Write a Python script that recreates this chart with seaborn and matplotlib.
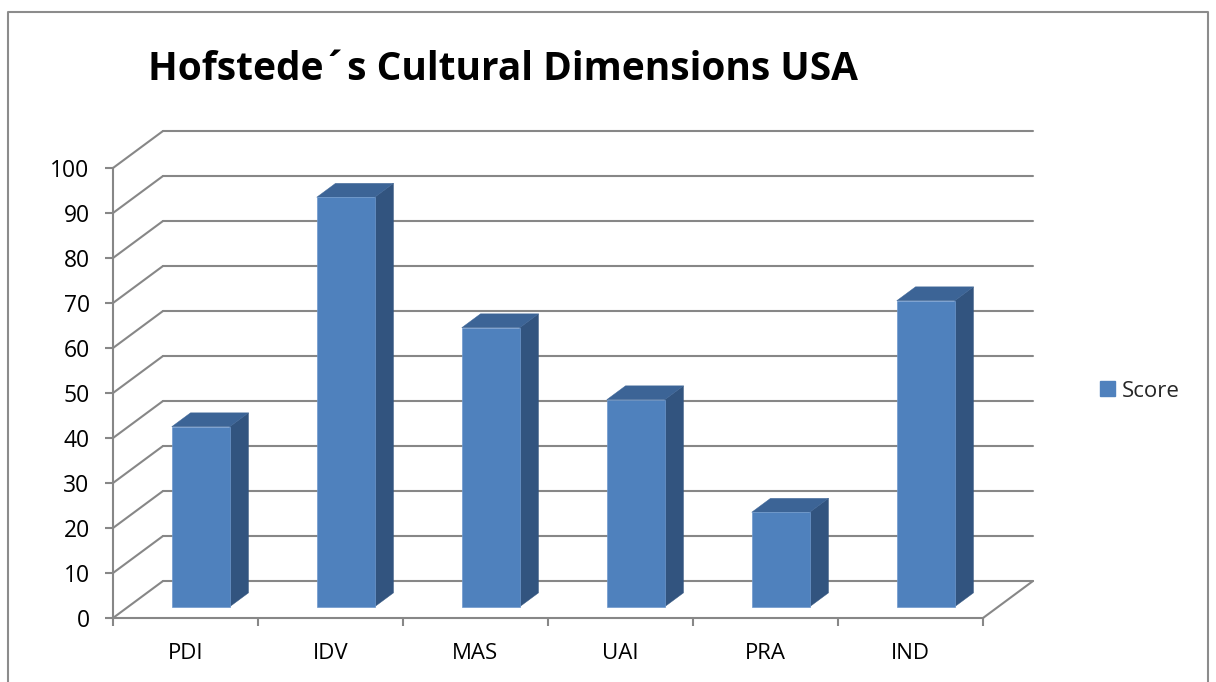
import matplotlib
matplotlib.use("Agg")
import matplotlib.pyplot as plt
from matplotlib.patches import Patch, Polygon
from matplotlib.lines import Line2D
import seaborn as sns

categories = ["PDI", "IDV", "MAS", "UAI", "PRA", "IND"]
scores = [40, 91, 62, 46, 21, 68]
y_ticks = [0, 10, 20, 30, 40, 50, 60, 70, 80, 90, 100]
title = "Hofstede\u00b4s Cultural Dimensions USA"
series_name = "Score"

FRONT = "#4F81BD"
SIDE = "#32547F"
TOP = "#3C6496"
GRID = "#878787"

sns.set_style("white")
plt.rcParams["font.family"] = ["Open Sans", "DejaVu Sans"]

W, H = 1216, 682
fig = plt.figure(figsize=(W / 100, H / 100), dpi=100)

# front plane of plot area (pixels)
L, R, T, B = 113, 983, 168, 618
ax = fig.add_axes([L / W, 1 - B / H, (R - L) / W, (B - T) / H])
ax.set_xlim(-0.5, len(categories) - 0.5)
ax.set_ylim(0, 100)

pxx = (R - L) / len(categories)   # px per x unit
pxy = (B - T) / 100.0             # px per y unit
DEPX, DEPY = 50, 37               # depth in px
F0, F1 = 0.305, 0.68              # bar front/back depth fraction


def dep(f):
    return f * DEPX / pxx, f * DEPY / pxy


# back wall gridlines and left wall diagonals
bx, by = dep(1.0)
for v in y_ticks:
    ax.add_line(Line2D([-0.5 + bx, len(categories) - 0.5 + bx], [v + by, v + by],
                       color=GRID, lw=1.5, clip_on=False, zorder=1))
    ax.add_line(Line2D([-0.5, -0.5 + bx], [v, v + by],
                       color=GRID, lw=1.5, clip_on=False, zorder=1))
# floor right edge
ax.add_line(Line2D([len(categories) - 0.5, len(categories) - 0.5 + bx], [0, by],
                   color=GRID, lw=1.5, clip_on=False, zorder=1))

# bars (front faces) via seaborn
sns.barplot(x=categories, y=scores, color=FRONT, saturation=1, width=0.4, ax=ax,
            zorder=3, edgecolor="#6E98CC", linewidth=0.5)

fx, fy = dep(F0)
kx, ky = dep(F1)
for p in ax.patches:
    x0 = p.get_x()
    w = p.get_width()
    h = p.get_height()
    p.set_x(x0 + fx)
    p.set_y(fy)
    x0 += fx
    x1 = x0 + w
    # side face
    side = [(x1, fy), (x1, fy + h), (x1 + (kx - fx), ky + h), (x1 + (kx - fx), ky)]
    ax.add_patch(Polygon(side, closed=True, facecolor=SIDE, edgecolor=SIDE, lw=0.3,
                         zorder=2.9, clip_on=False))
    # top face
    top = [(x0, fy + h), (x1, fy + h), (x1 + (kx - fx), ky + h), (x0 + (kx - fx), ky + h)]
    ax.add_patch(Polygon(top, closed=True, facecolor=TOP, edgecolor=TOP, lw=0.3,
                         zorder=2.9, clip_on=False))

# axes styling
for s in ["top", "right"]:
    ax.spines[s].set_visible(False)
for s in ["left", "bottom"]:
    ax.spines[s].set_color(GRID)
    ax.spines[s].set_linewidth(1.5)
    ax.spines[s].set_zorder(1)

ax.set_yticks(y_ticks)
ax.set_yticklabels([str(v) for v in y_ticks])
ax.tick_params(axis="y", length=5.8, width=1.5, color=GRID, pad=11, labelsize=16.5,
               labelcolor="black", left=True)
ax.set_xticks(range(len(categories)))
ax.set_xticklabels(categories)
ax.tick_params(axis="x", which="major", length=0, pad=18, labelsize=16, labelcolor="black")
ax.set_xticks([i - 0.5 for i in range(len(categories) + 1)], minor=True)
ax.tick_params(axis="x", which="minor", length=5.8, width=1.5, color=GRID, bottom=True)
ax.set_xlabel("")
ax.set_ylabel("")
ax.grid(False)
ax.set_facecolor("none")

# title
fig.text(148 / W, 1 - 80 / H, title, ha="left", va="baseline", fontsize=28,
         fontweight="bold", color="black")

# legend
fig.legend(handles=[Patch(facecolor=FRONT, edgecolor=FRONT, label=series_name)],
           loc="center left", bbox_to_anchor=(1100 / W, 1 - 391 / H), frameon=False,
           fontsize=16, handlelength=0.68, handleheight=0.68, handletextpad=0.3,
           borderpad=0, borderaxespad=0)

# chart border
fig.add_artist(Line2D([8 / W, 8 / W, 1208 / W, 1208 / W], [0, 1 - 11.5 / H, 1 - 11.5 / H, 0],
                      transform=fig.transFigure, color="#8C8C8C", lw=1.5))

fig.savefig("out.png", dpi=100)
